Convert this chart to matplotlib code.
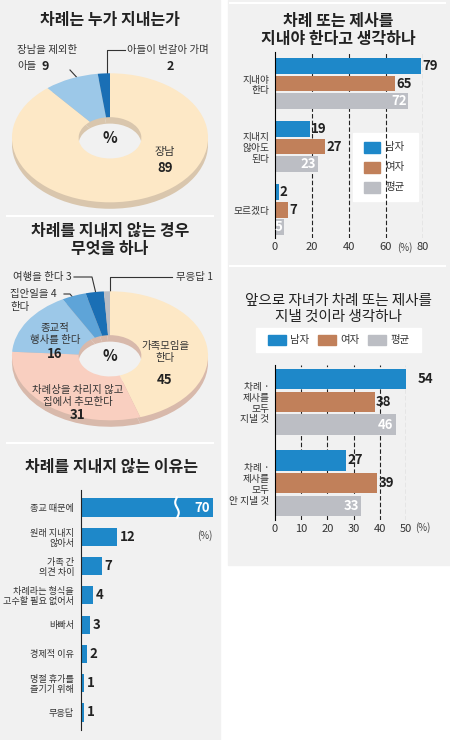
import matplotlib
matplotlib.use("Agg")
import matplotlib.pyplot as plt
from matplotlib.patches import Rectangle
import numpy as np

plt.rcParams['font.family'] = ['Noto Sans CJK KR', 'DejaVu Sans']

# ---- data ----
who_labels = ['장남', '장남을 제외한\n아들', '아들이 번갈아 가며']
who_vals = [89, 9, 2]
what_labels = ['가족모임을\n한다', '차례상을 차리지 않고\n집에서 추모한다', '종교적\n행사를 한다', '집안일을', '여행을 한다', '무응답']
what_vals = [45, 31, 16, 4, 3, 1]
why_labels = ['종교 때문에', '원래 지내지\n않아서', '가족 간\n의견 차이', '차례라는 형식을\n고수할 필요 없어서',
              '바빠서', '경제적 이유', '명절 휴가를\n즐기기 위해', '무응답']
why_vals = [70, 12, 7, 4, 3, 2, 1, 1]
q1_cats = ['지내야\n한다', '지내지\n않아도\n된다', '모르겠다']
q1_men = [79, 19, 2]
q1_women = [65, 27, 7]
q1_avg = [72, 23, 5]
q2_cats = ['차례 ·\n제사를\n모두\n지낼 것', '차례 ·\n제사를\n모두\n안 지낼 것']
q2_men = [54, 27]
q2_women = [38, 39]
q2_avg = [46, 33]
series_names = ['남자', '여자', '평균']

BLUE = '#1e88c9'; BROWN = '#c1805a'; GRAY = '#bcbec4'; BG = '#f1f1f1'
W, H = 450, 740
fig = plt.figure(figsize=(4.5, 7.4), dpi=100)

def pax(x, y, w, h, **kw):
    return fig.add_axes([x / W, 1 - (y + h) / H, w / W, h / H], **kw)

def ftext(x, y, s, **kw):
    fig.text(x / W, 1 - y / H, s, **kw)

bg = pax(0, 0, W, H); bg.set_xlim(0, W); bg.set_ylim(H, 0); bg.axis('off')
bg.add_patch(Rectangle((0, 0), 220, 740, color=BG))
bg.add_patch(Rectangle((228, 0), 222, 565, color=BG))
for (x0, x1, y) in [(7, 213, 216), (7, 213, 443), (230, 445, 3), (230, 445, 266)]:
    bg.plot([x0, x1], [y, y], color='white', lw=1.5)

def donut(x, y, w, h, vals, cols, dark):
    ax = pax(x, y, w, h)
    ax.pie(vals, colors=[dark] * len(vals), startangle=90, counterclock=False, center=(0, -0.1),
           radius=1, wedgeprops=dict(width=0.68, lw=0))
    ax.pie(vals, colors=cols, startangle=90, counterclock=False, radius=1,
           wedgeprops=dict(width=0.68, lw=0))
    ax.set_aspect('auto'); ax.set_xlim(-1.02, 1.02); ax.set_ylim(-1.15, 1.02)
    ax.text(0, 0, '%', ha='center', va='center', fontsize=11, fontweight='bold', color='#222')
    return ax

ftext(110, 20, '차례는 누가 지내는가', ha='center', va='center', fontsize=11.5, fontweight='bold', color='#222')
donut(10, 72, 200, 140, who_vals, ['#fde8c6', '#9cc8e8', '#1a6fb5'], '#d9c6ad')
ftext(165, 152, who_labels[0], ha='center', va='center', fontsize=8, color='#333')
ftext(165, 168, str(who_vals[0]), ha='center', va='center', fontsize=9.5, fontweight='bold', color='#222')
ftext(17, 50, who_labels[1].split('\n')[0], ha='left', va='center', fontsize=7.5, color='#333')
ftext(17, 66, '아들', ha='left', va='center', fontsize=7.5, color='#333')
ftext(42, 66, str(who_vals[1]), ha='left', va='center', fontsize=9, fontweight='bold', color='#222')
ftext(127, 50, who_labels[2], ha='left', va='center', fontsize=7.5, color='#333')
ftext(170, 67, str(who_vals[2]), ha='center', va='center', fontsize=9, fontweight='bold', color='#222')
bg.plot([107, 107, 125], [75, 50, 50], color='#333', lw=0.8)
bg.plot([70, 82], [70, 83], color='#333', lw=0.8)

ftext(110, 240, '차례를 지내지 않는 경우\n무엇을 하나', ha='center', va='center', fontsize=11.5,
      fontweight='bold', color='#222', linespacing=1.2)
donut(10, 290, 200, 140, what_vals, ['#fde8c6', '#f9cfc0', '#9cc8e8', '#5ea4d8', '#1a6fb5', '#b8bcc4'], '#d8b9ab')
ftext(165, 352, what_labels[0], ha='center', va='center', fontsize=7.5, color='#333', linespacing=1.2)
ftext(165, 380, str(what_vals[0]), ha='center', va='center', fontsize=9.5, fontweight='bold', color='#222')
ftext(78, 396, what_labels[1], ha='center', va='center', fontsize=7.5, color='#333', linespacing=1.2)
ftext(78, 415, str(what_vals[1]), ha='center', va='center', fontsize=9.5, fontweight='bold', color='#222')
ftext(55, 334, what_labels[2], ha='center', va='center', fontsize=7.5, color='#333', linespacing=1.2)
ftext(55, 354, str(what_vals[2]), ha='center', va='center', fontsize=9.5, fontweight='bold', color='#222')
ftext(10, 294, what_labels[3] + f' {what_vals[3]}', ha='left', va='center', fontsize=7.5, color='#333')
ftext(10, 307, '한다', ha='left', va='center', fontsize=7.5, color='#333')
ftext(13, 277, what_labels[4] + f' {what_vals[4]}', ha='left', va='center', fontsize=7.5, color='#333')
ftext(176, 277, what_labels[5] + f' {what_vals[5]}', ha='left', va='center', fontsize=7.5, color='#333')
bg.plot([74, 92, 97], [277, 277, 298], color='#333', lw=0.8)
bg.plot([64, 70, 80], [294, 294, 306], color='#333', lw=0.8)
bg.plot([110, 110, 172], [300, 277, 277], color='#333', lw=0.8)

ftext(112, 467, '차례를 지내지 않는 이유는', ha='center', va='center', fontsize=11.5, fontweight='bold', color='#222')
ax = pax(81, 490, 132, 240)
n = len(why_vals)
ypos = np.arange(n)
CAP = 44
ax.barh(ypos, [min(v, CAP) for v in why_vals], height=0.62, color=BLUE)
ax.set_xlim(0, CAP); ax.set_ylim(n - 0.4, -0.6)
ax.set_facecolor('none')
for s in ['top', 'right', 'bottom']:
    ax.spines[s].set_visible(False)
ax.spines['left'].set_color('#222')
ax.set_xticks([]); ax.set_yticks(ypos)
ax.set_yticklabels(why_labels, fontsize=6.6, color='#333', linespacing=1.1)
ax.tick_params(axis='y', length=0, pad=5)
for i, v in enumerate(why_vals):
    if v > CAP:
        ax.text(CAP - 1, i, str(v), ha='right', va='center', color='white', fontsize=9.5, fontweight='bold')
        zy = np.linspace(i - 0.35, i + 0.35, 20)
        ax.plot(CAP - 12 + 0.6 * np.sin((zy - i) * 9), zy, color='white', lw=1.5)
    else:
        ax.text(v + 0.8, i, str(v), ha='left', va='center', color='#222', fontsize=9.5, fontweight='bold')
ax.text(CAP, 0.95, '(%)', ha='right', va='center', fontsize=7, color='#444')

def grouped(ax, men, women, avg, cats, xmax, ticks, h=0.27):
    g = np.arange(len(cats))
    for k, (vals, col) in enumerate([(men, BLUE), (women, BROWN), (avg, GRAY)]):
        yy = g + (k - 1) * (h + 0.03)
        ax.barh(yy, vals, height=h, color=col)
        for y_, v in zip(yy, vals):
            if k == 2:
                ax.text(v - 0.8, y_, str(v), ha='right', va='center', color='white', fontsize=9.5, fontweight='bold')
            else:
                ax.text(v + 0.6, y_, str(v), ha='left', va='center', color='#222', fontsize=9.5, fontweight='bold')
    ax.set_facecolor('none')
    ax.set_xlim(0, xmax)
    for t in ticks[1:]:
        ax.axvline(t, color='#222', lw=0.8, ls=(0, (4, 2)), zorder=0)
    for s in ['top', 'right', 'bottom']:
        ax.spines[s].set_visible(False)
    ax.set_yticks(g); ax.set_yticklabels(cats, fontsize=7, color='#333', linespacing=1.1, ha='right')
    ax.tick_params(axis='y', length=0, pad=4)
    ax.set_xticks(ticks); ax.set_xticklabels([str(t) for t in ticks], fontsize=8, style='italic', color='#333')
    ax.tick_params(axis='x', length=0, pad=3)

ftext(338, 30, '차례 또는 제사를\n지내야 한다고 생각하나', ha='center', va='center', fontsize=11.5,
      fontweight='bold', color='#222', linespacing=1.2)
axA = pax(275, 52, 148, 186)
grouped(axA, q1_men, q1_women, q1_avg, q1_cats, 80, [0, 20, 40, 60, 80], h=0.25)
axA.set_ylim(2.45, -0.5)
ftext(405, 248, '(%)', ha='center', va='center', fontsize=7, color='#444')
bg.add_patch(Rectangle((353, 133), 65, 68, color='white'))
for k, (nm, col) in enumerate(zip(series_names, [BLUE, BROWN, GRAY])):
    bg.add_patch(Rectangle((364, 142 + k * 20), 16, 11, color=col))
    bg.text(385, 147 + k * 20, nm, va='center', fontsize=7.5, color='#333')

ftext(338, 309, '앞으로 자녀가 차례 또는 제사를\n지낼 것이라 생각하나', ha='center', va='center', fontsize=10.5,
      color='#222', linespacing=1.2)
bg.add_patch(Rectangle((256, 328), 165, 24, color='white'))
for k, (nm, col) in enumerate(zip(series_names, [BLUE, BROWN, GRAY])):
    bg.add_patch(Rectangle((268 + k * 50, 335), 18, 10, color=col))
    bg.text(290 + k * 50, 340, nm, va='center', fontsize=7.5, color='#333')
axB = pax(275, 365, 131, 155)
grouped(axB, q2_men, q2_women, q2_avg, q2_cats, 50, [0, 10, 20, 30, 40, 50], h=0.25)
axB.set_ylim(1.45, -0.45)
ftext(423, 528, '(%)', ha='center', va='center', fontsize=7, color='#444')

fig.savefig('out.png', dpi=100)
